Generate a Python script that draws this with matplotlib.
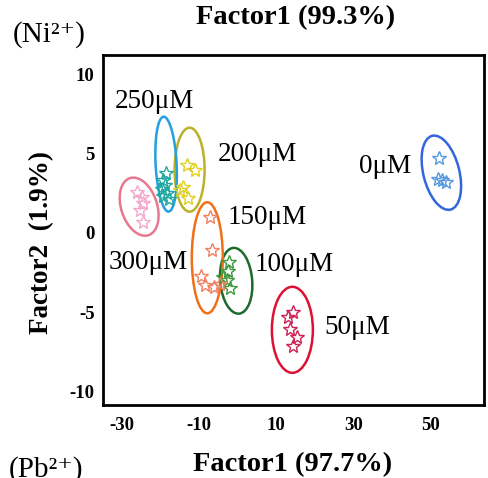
import matplotlib
matplotlib.use("Agg")
import matplotlib.pyplot as plt
from matplotlib.patches import Ellipse
from matplotlib.transforms import ScaledTranslation

plt.rcParams['font.family'] = ['Liberation Serif', 'DejaVu Serif']
plt.rcParams['axes.unicode_minus'] = False

# concentration groups
groups = ['0μM', '50μM', '100μM', '150μM', '200μM', '250μM', '300μM']

# star points (Factor1, Factor2) per group
pts_x = {
    '0μM':   [52.3, 52.1, 54.2, 53.1],
    '50μM':  [14.4, 13.1, 13.6, 15.5, 14.4],
    '100μM': [-2.2, -3.8, -2.7, -1.95, -2.5],
    '150μM': [-7.1, -6.6, -9.5, -8.4, -6.1, -4.5],
    '200μM': [-13.1, -11.0, -14.2, -14.9, -12.9],
    '250μM': [-18.6, -19.4, -18.8, -19.6, -18.3, -19.3, -17.8],
    '300μM': [-26.1, -24.8, -24.5, -25.3, -24.5],
}
pts_y = {
    '0μM':   [4.73, 3.40, 3.22, 3.34],
    '50μM':  [-4.98, -5.30, -6.05, -6.56, -7.12],
    '100μM': [-1.83, -2.77, -2.96, -3.47, -2.40],
    '150μM': [1.01, -1.07, -2.71, -3.28, -3.40, -3.22],
    '200μM': [4.29, 3.97, 2.90, 2.71, 2.21],
    '250μM': [3.78, 3.34, 3.03, 2.77, 2.52, 2.33, 2.14],
    '300μM': [2.59, 2.27, 1.89, 1.45, 0.69],
}

# ellipse centres (data units)
ell_cx = [52.9, 14.2, -0.4, -7.9, -12.5, -18.6, -25.6]
ell_cy = [3.78, -6.12, -3.03, -1.58, 3.97, 4.32, 1.64]

# label positions
lab_x = [38.3, 31.0, 14.7, 7.7, 5.1, -21.7, -23.2]
lab_y = [4.16, -5.99, -2.02, 0.95, 4.92, 8.26, -1.89]

ell_colors = ['#3366dd', '#dd1133', '#1e6b2e', '#f07018', '#bbb22a', '#22a0e0', '#e87890']
star_colors = ['#5599dd', '#cc2255', '#3d9a3d', '#f08060', '#e0d020', '#20a8a0', '#f4a8cc']
# ellipse size on screen (inches) and tilt
ell_w = [0.36, 0.41, 0.32, 0.31, 0.30, 0.21, 0.36]
ell_h = [0.76, 0.86, 0.66, 1.11, 0.84, 0.95, 0.60]
ell_ang = [14, 0, 5, 0, 0, 3, 18]

fig = plt.figure(figsize=(4.88, 4.78), dpi=100)
ax = fig.add_axes([0.211, 0.153, 0.781, 0.732])

for i, g in enumerate(groups):
    ax.plot(pts_x[g], pts_y[g], linestyle='none', marker='*', markersize=10,
            markerfacecolor='none', markeredgecolor=star_colors[i], markeredgewidth=1.0)
    tr = fig.dpi_scale_trans + ScaledTranslation(ell_cx[i], ell_cy[i], ax.transData)
    e = Ellipse((0, 0), ell_w[i], ell_h[i], angle=ell_ang[i], transform=tr,
                fill=False, edgecolor=ell_colors[i], linewidth=1.8)
    ax.add_patch(e)
    ax.text(lab_x[i], lab_y[i], g, fontsize=19.5, ha='center', va='center')

ax.set_xlim(-35, 64)
ax.set_ylim(-10.85, 11.2)
ax.set_xticks([-30, -10, 10, 30, 50])
ax.set_yticks([-10, -5, 0, 5, 10])
ax.tick_params(length=0, labelsize=13.5)
ax.tick_params(axis='y', pad=6)
ax.tick_params(axis='x', pad=9)
for lab in ax.get_xticklabels() + ax.get_yticklabels():
    lab.set_fontweight('bold')
for s in ax.spines.values():
    s.set_linewidth(2)

fig.text(296 / 488, 1 - 18 / 478, 'Factor1 (99.3%)', fontsize=20.5, fontweight='bold', ha='center', va='center')
fig.text(293 / 488, 1 - 465 / 478, 'Factor1 (97.7%)', fontsize=20.5, fontweight='bold', ha='center', va='center')
fig.text(42 / 488, 1 - 242 / 478, 'Factor2  (1.9%)', fontsize=19.5, fontweight='bold',
         ha='center', va='center', rotation=90)
fig.text(49 / 488, 1 - 35 / 478, '(Ni²⁺)', fontsize=21, ha='center', va='center')
fig.text(46 / 488, 1 - 456 / 478, '(Pb²⁺)', fontsize=21, ha='center', va='top')

fig.savefig('out.png', dpi=100)
